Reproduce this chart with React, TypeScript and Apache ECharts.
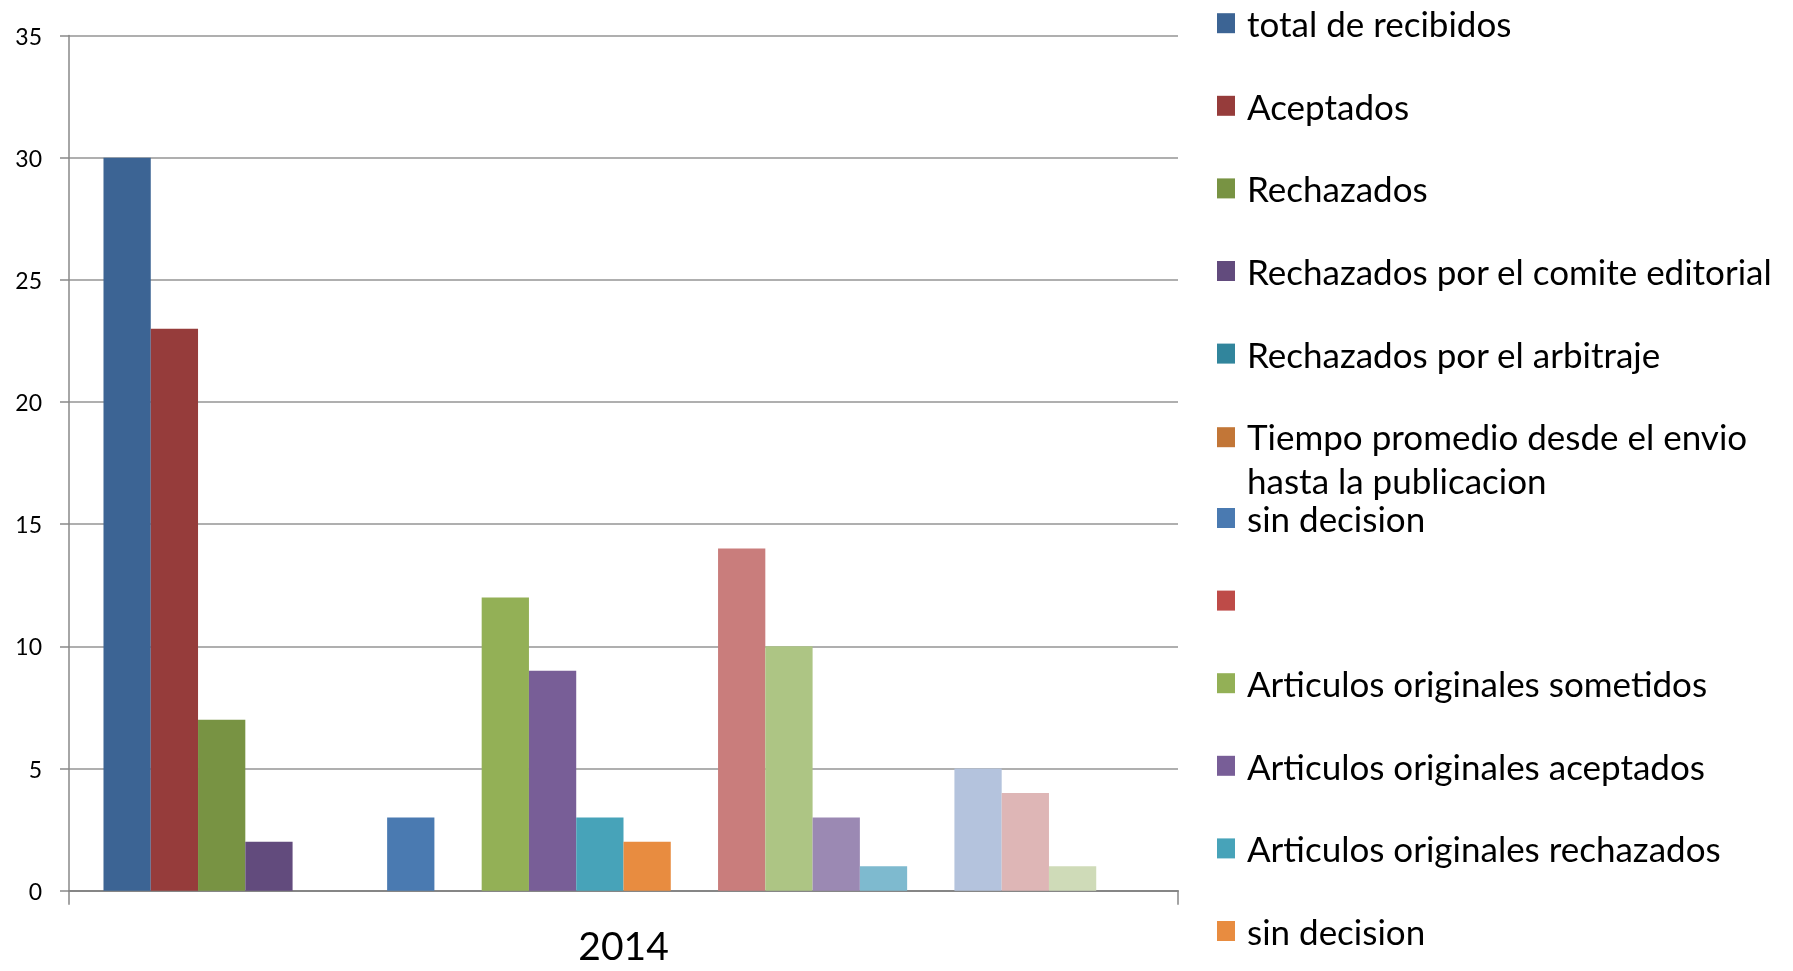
import React, { useEffect, useRef } from "react";
import * as echarts from "echarts";

const categories = ["2014"];

const seriesNames = [
  "total de recibidos",
  "Aceptados",
  "Rechazados",
  "Rechazados por el comite editorial",
  "Rechazados por el arbitraje",
  "Tiempo promedio desde el envio hasta la publicacion",
  "sin decision",
  " ",
  "Articulos originales sometidos",
  "Articulos originales aceptados",
  "Articulos originales rechazados",
  "sin decision ",
  "  ",
  "Articulos de revision sometidos",
  "Articulos de revision aceptados",
  "Articulos de revision rechazados",
  "sin decision (revision)",
  "   ",
  "Otros articulos sometidos",
  "Otros articulos aceptados",
  "Otros articulos rechazados",
  "sin decision (otros)",
];

const seriesValues = [30, 23, 7, 2, 0, 0, 3, 0, 12, 9, 3, 2, 0, 14, 10, 3, 1, 0, 5, 4, 1, 0];

const seriesColors = [
  "#3C6494", "#963C3B", "#789343", "#624B7D", "#31859C", "#C27637",
  "#4A7AB1", "#BE4B48", "#93B056", "#785E97", "#47A3B9", "#E88C40",
  "#7D9ECF", "#C97D7C", "#ADC584", "#9B89B3", "#7EBACF", "#F5AE78",
  "#B4C3DD", "#DEB6B6", "#CFDBB8", "#C9BEDA",
];

const yMin = 0;
const yMax = 35;
const yInterval = 5;

const legendTopNames = seriesNames.slice(0, 6);
const legendBottomNames = seriesNames.slice(6, 12);

const FONT = "Lato, 'Open Sans', sans-serif";

export default function App() {
  const ref = useRef<HTMLDivElement>(null);
  useEffect(() => {
    document.body.style.margin = "0";
    const chart = echarts.init(ref.current!, null, { renderer: "svg" });
    const legendText = { fontFamily: FONT, fontSize: 35, color: "#000" };
    const baseLegend = {
      orient: "vertical",
      left: 1217,
      padding: 0,
      itemGap: 47.6,
      itemWidth: 18,
      itemHeight: 20,
      icon: "rect",
      selectedMode: false,
      textStyle: {
        ...legendText,
        padding: [0, 0, 0, 7],
        rich: {
          a: { ...legendText, lineHeight: 86 },
          b: { ...legendText, lineHeight: 2 },
        },
      },
      formatter: (name: string) => {
        const idx = name.indexOf(" hasta");
        if (idx > 0) {
          return "{a|" + name.slice(0, idx) + "}\n{b|" + name.slice(idx + 1) + "}";
        }
        return name;
      },
    };
    chart.setOption({
      animation: false,
      grid: { left: 69, right: 615, top: 35.5, bottom: 80.3, containLabel: false },
      xAxis: {
        type: "category",
        data: categories,
        axisLine: { lineStyle: { color: "#868686", width: 2 } },
        axisTick: { show: true, length: 14, lineStyle: { color: "#868686", width: 1.5 } },
        axisLabel: { fontFamily: FONT, fontSize: 39, lineHeight: 30, color: "#000", margin: 39 },
      },
      yAxis: {
        type: "value",
        min: yMin,
        max: yMax,
        interval: yInterval,
        axisLine: { show: true, lineStyle: { color: "#888888", width: 1.5 } },
        axisTick: { show: true, length: 9, lineStyle: { color: "#888888", width: 1.5 } },
        axisLabel: { fontFamily: FONT, fontSize: 23, color: "#000", margin: 27 },
        splitLine: { lineStyle: { color: "#959595", width: 1.5 } },
      },
      legend: [
        { ...baseLegend, top: 5.7, data: legendTopNames },
        { ...baseLegend, top: 500.5, data: legendBottomNames },
      ],
      series: seriesNames.map((name, i) => ({
        type: "bar",
        name,
        data: [seriesValues[i]],
        itemStyle: { color: seriesColors[i] },
        barGap: "0%",
        barCategoryGap: "6.22%",
      })),
    });
    return () => chart.dispose();
  }, []);
  return (
    <div
      ref={ref}
      style={{ position: "fixed", left: 0, top: 0, width: 1793, height: 971 }}
    />
  );
}
